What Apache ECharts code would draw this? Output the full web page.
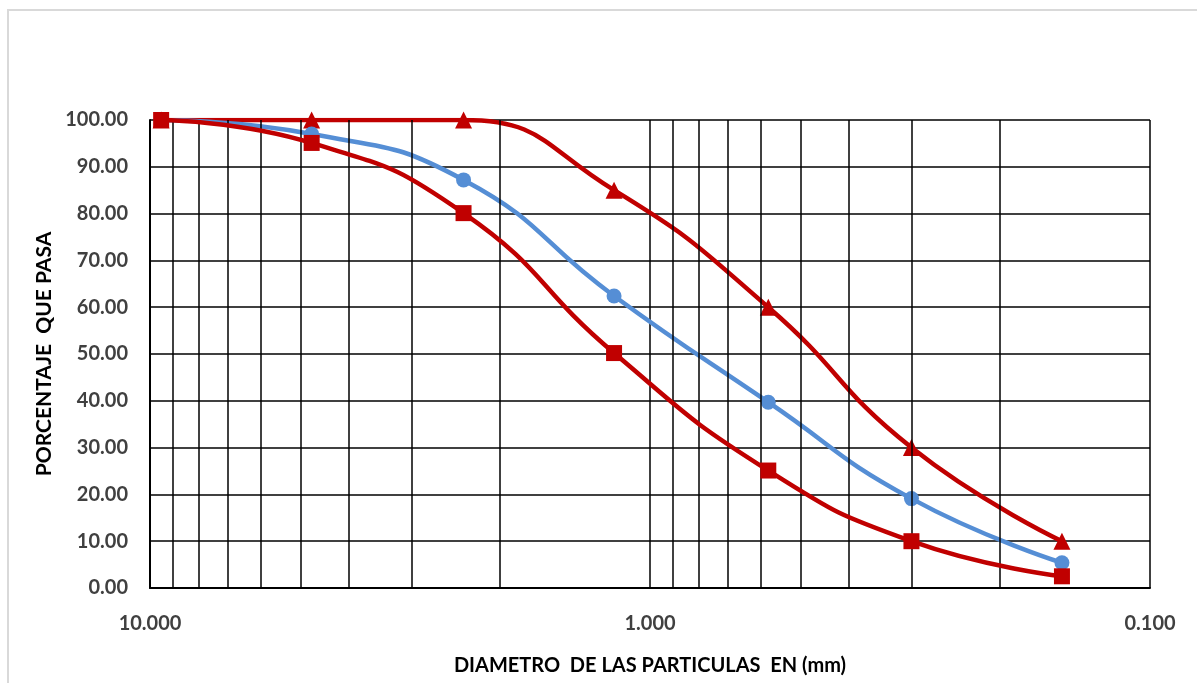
<!DOCTYPE html>
<html>
<head>
<meta charset="utf-8">
<script src="https://cdn.jsdelivr.net/npm/echarts@6/dist/echarts.min.js"></script>
<style>
html,body{margin:0;padding:0;background:#fff;}
#chart{width:1197px;height:683px;}
</style>
</head>
<body>
<div id="chart"></div>
<script>
// Sieve sizes (mm)
const sieves = [9.5, 4.75, 2.36, 1.18, 0.58, 0.3, 0.15];
// Upper limit (red triangles)
const upperLimit = [100, 100, 100, 85, 60, 30, 10];
// Sample gradation (blue circles)
const sample = [100, 97, 87.2, 62.4, 39.7, 19.1, 5.4];
// Lower limit (red squares)
const lowerLimit = [100, 95.1, 80.1, 50.2, 25.1, 10, 2.5];
// Minor log grid lines
const minorGrid = [9, 8, 7, 6, 5, 4, 3, 2, 0.9, 0.8, 0.7, 0.6, 0.5, 0.4, 0.3, 0.2];
const yMin = 0, yMax = 100, yStep = 10;
const xMin = 0.1, xMax = 10;

const FONT = 'Lato';
const RED = '#C00000';
const BLUE = '#558ED5';

function pairs(xs, ys) { return xs.map((x, i) => [x, ys[i]]); }

const chart = echarts.init(document.getElementById('chart'), null, {renderer: 'canvas'});
chart.setOption({
  backgroundColor: '#ffffff',
  animation: false,
  graphic: [{
    type: 'rect',
    shape: {x: 8, y: 10, width: 1220, height: 700},
    style: {fill: 'none', stroke: '#d9d9d9', lineWidth: 2},
    silent: true, z: -10
  }],
  grid: {left: 150, right: 47, top: 120, bottom: 95},
  xAxis: {
    type: 'log', logBase: 10, min: xMin, max: xMax, inverse: true,
    name: 'DIAMETRO  DE LAS PARTICULAS  EN (mm)',
    nameLocation: 'middle', nameGap: 68,
    nameTextStyle: {fontFamily: FONT, fontWeight: 'bold', fontSize: 20, color: '#000'},
    axisLine: {show: true, lineStyle: {color: '#000', width: 2}},
    axisTick: {show: false},
    axisLabel: {
      margin: 26, fontFamily: FONT, fontWeight: 'bold', fontSize: 20, color: '#404040',
      formatter: v => Number(v).toFixed(3)
    },
    splitLine: {show: true, lineStyle: {color: '#000', width: 1.5}}
  },
  yAxis: {
    type: 'value', min: yMin, max: yMax, interval: yStep,
    name: 'PORCENTAJE  QUE PASA',
    nameLocation: 'middle', nameGap: 95, nameRotate: 90,
    nameTextStyle: {fontFamily: FONT, fontWeight: 'bold', fontSize: 21, color: '#000'},
    axisLine: {show: true, lineStyle: {color: '#000', width: 2}},
    axisTick: {show: false},
    axisLabel: {
      margin: 22, fontFamily: FONT, fontWeight: 'bold', fontSize: 20, color: '#404040',
      formatter: v => Number(v).toFixed(2)
    },
    splitLine: {show: true, lineStyle: {color: '#000', width: 1.5}}
  },
  series: [
    {
      type: 'line', data: [], z: 1, silent: true,
      markLine: {
        silent: true, symbol: 'none', animation: false,
        label: {show: false},
        lineStyle: {color: '#000', width: 1.5, type: 'solid'},
        data: minorGrid.map(v => ({xAxis: v}))
      }
    },
    {
      name: 'Superior', type: 'line', z: 3, smooth: 0.5,
      data: pairs(sieves, upperLimit),
      symbol: 'triangle', symbolSize: 17,
      lineStyle: {color: RED, width: 4.5},
      itemStyle: {color: RED}
    },
    {
      name: 'Muestra', type: 'line', z: 4, smooth: 0.5,
      data: pairs(sieves, sample),
      symbol: 'circle', symbolSize: 15,
      lineStyle: {color: BLUE, width: 4.5},
      itemStyle: {color: BLUE}
    },
    {
      name: 'Inferior', type: 'line', z: 5, smooth: 0.5,
      data: pairs(sieves, lowerLimit),
      symbol: 'rect', symbolSize: 16,
      lineStyle: {color: RED, width: 4.5},
      itemStyle: {color: RED}
    }
  ]
});
</script>
</body>
</html>
